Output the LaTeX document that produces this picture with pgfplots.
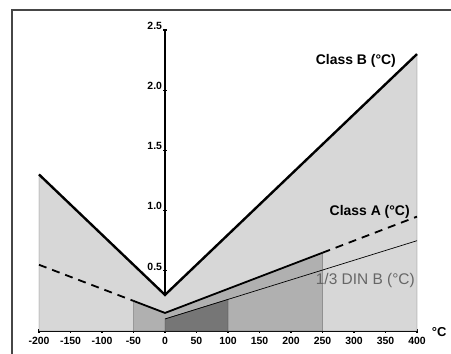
\documentclass[border=0pt]{standalone}
\usepackage{pgfplots}
\pgfplotsset{compat=1.18}
\usepackage{fontspec}
\setmainfont{Liberation Sans}
\definecolor{lightfill}{RGB}{215,215,215}
\definecolor{midfill}{RGB}{176,176,176}
\definecolor{darkfill}{RGB}{118,118,118}
\definecolor{framecol}{RGB}{70,70,70}
\begin{document}
\begin{tikzpicture}
\useasboundingbox (0,0) rectangle (451bp,354bp);
\draw[framecol, line width=1.4bp] (12bp,0) -- (12bp,344bp) -- (451bp,344bp);
\begin{axis}[
  at={(39bp,23bp)}, anchor=south west,
  scale only axis, width=378bp, height=301bp,
  xmin=-200, xmax=400, ymin=0, ymax=2.5,
  enlargelimits=false, clip=false,
  axis lines=middle,
  hide obscured x ticks=false,
  axis line style={-, line width=1.6bp, black},
  xtick={-200,-150,...,400},
  xticklabels={-200,-150,-100,-50,0,50,100,150,200,250,300,350,400},
  ytick={0.5,1.0,1.5,2.0,2.5},
  yticklabels={0.5,1.0,1.5,2.0,2.5},
  major tick length=3bp,
  tick style={line width=1.2bp, black},
  tick align=center,
  x tick label style={font=\fontsize{10.5}{11}\selectfont\bfseries, yshift=-1bp},
  y tick label style={font=\fontsize{10.5}{11}\selectfont\bfseries, anchor=south east, xshift=2bp, yshift=-3bp},
]
% light region under Class B
\addplot[draw=gray!80!black, thin, fill=lightfill] coordinates {(-200,0) (-200,1.3) (0,0.3) (400,2.3) (400,0)} -- cycle;
% medium region under Class A
\addplot[draw=black!75, thin, fill=midfill] coordinates {(-50,0) (-50,0.25) (0,0.15) (250,0.65) (250,0)} -- cycle;
% dark region under 1/3 DIN B
\addplot[draw=black!75, thin, fill=darkfill] coordinates {(0,0) (0,0.1) (100,0.2625) (100,0)} -- cycle;
% 1/3 DIN B line
\addplot[black, line width=0.7bp] coordinates {(0,0.1) (400,0.75)};
% Class A
\addplot[black, line width=1.8bp, dash pattern=on 8bp off 6bp] coordinates {(-200,0.55) (-50,0.25)};
\addplot[black, line width=1.8bp] coordinates {(-50,0.25) (0,0.15) (250,0.65)};
\addplot[black, line width=1.8bp, dash pattern=on 8bp off 6bp] coordinates {(250,0.65) (400,0.95)};
% Class B
\addplot[black, line width=2.4bp] coordinates {(-200,1.3) (0,0.3) (400,2.3)};
\node[anchor=east, font=\fontsize{14}{15}\selectfont\bfseries] at (axis cs:372,2.24) {Class B (°C)};
\node[anchor=east, font=\fontsize{14}{15}\selectfont\bfseries] at (axis cs:394,0.99) {Class A (°C)};
\node[anchor=east, font=\fontsize{15.5}{16}\selectfont, text=black!60] at (axis cs:402,0.42) {1/3 DIN B (°C)};
\node[anchor=west, font=\fontsize{13}{14}\selectfont\bfseries] at (axis cs:418,-0.01) {°C};
\end{axis}
\end{tikzpicture}
\end{document}
